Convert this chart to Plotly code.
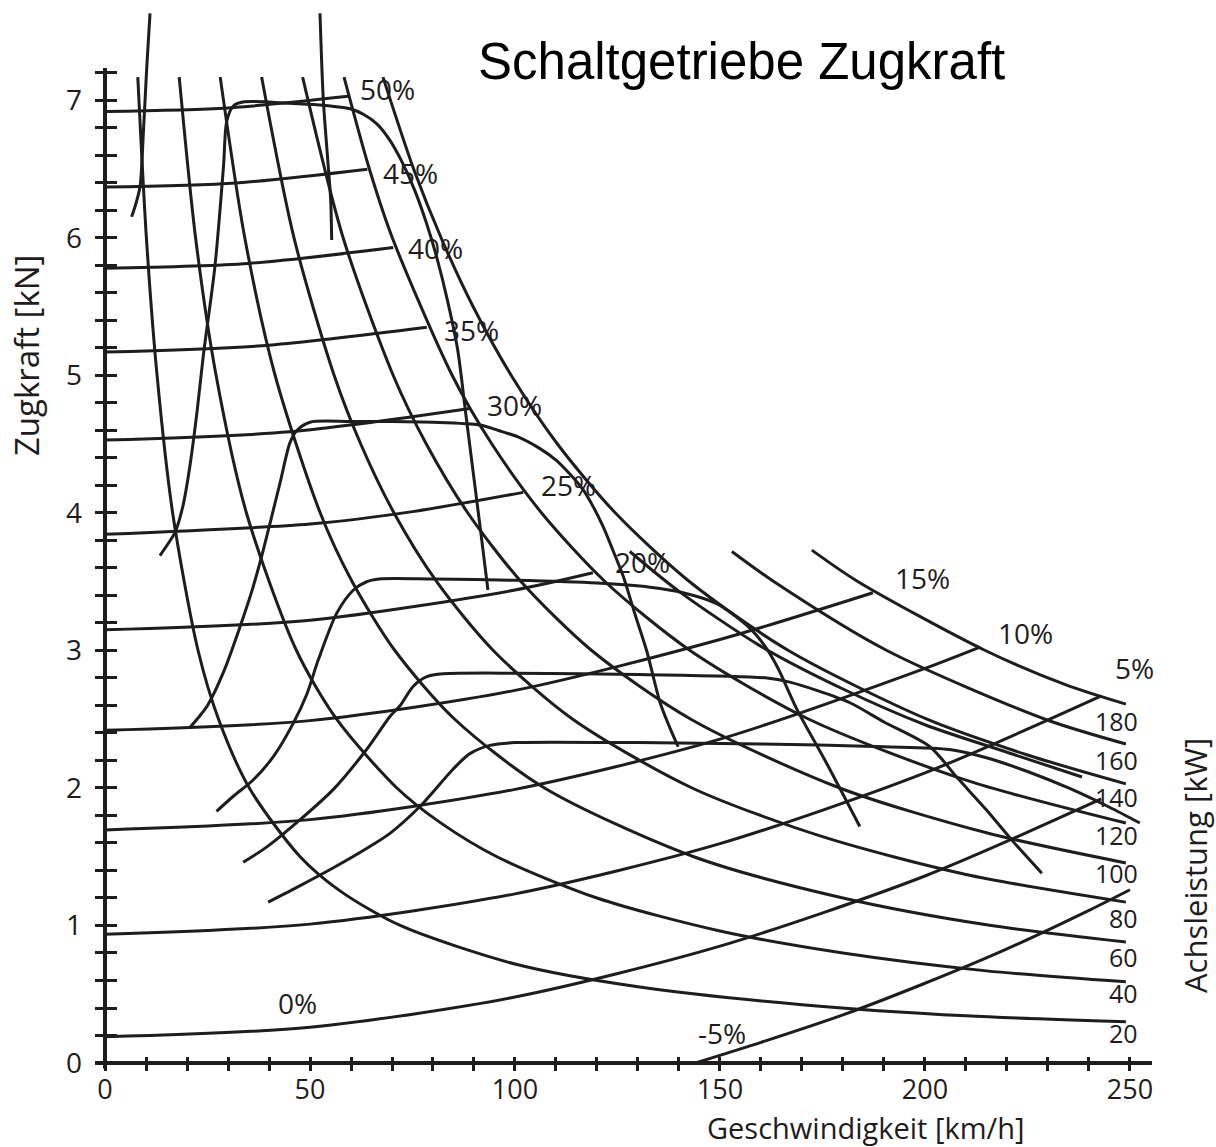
import plotly.graph_objects as go

INK = "#1e1c1d"

# ---------------- axis ticks ----------------
X_MAJOR = [0, 50, 100, 150, 200, 250]
X_MINOR = [10, 20, 30, 40, 60, 70, 80, 90, 110, 120, 130, 140, 160, 170, 180, 190, 210, 220, 230, 240]
Y_MAJOR = [0, 1, 2, 3, 4, 5, 6, 7]
Y_MINOR = [0.2, 0.4, 0.6, 0.8, 1.2, 1.4, 1.6, 1.8, 2.2, 2.4, 2.6, 2.8, 3.2, 3.4, 3.6, 3.8,
           4.2, 4.4, 4.6, 4.8, 5.2, 5.4, 5.6, 5.8, 6.2, 6.4, 6.6, 6.8, 7.2]

# ---------------- power hyperbolas (Achsleistung, kW) ----------------
P20_X = [8.0, 10.1, 12.7, 16.5, 22.7, 27.7, 35.2, 47.6, 57.4, 72, 100, 130, 170, 210, 249]
P20_F = [7.17, 6.0, 5.0, 4.0, 3.0, 2.5, 2.0, 1.5, 1.25, 1.0, 0.72, 0.554, 0.424, 0.343, 0.30]
P40_X = [18.1, 22.1, 27.1, 34.5, 46.7, 56.5, 71.2, 81.7, 95.6, 120, 150, 180, 215, 249]
P40_F = [7.17, 6.0, 5.0, 4.0, 3.0, 2.5, 2.0, 1.75, 1.5, 1.2, 0.96, 0.80, 0.67, 0.59]
P60_X = [28.1, 34.1, 41.5, 52.5, 60.3, 70.7, 85.3, 107.2, 143.6, 180, 215, 249]
P60_F = [7.17, 6.0, 5.0, 4.0, 3.5, 3.0, 2.5, 2.0, 1.5, 1.2, 1.005, 0.88]
P80_X = [38.2, 46.1, 55.9, 62.4, 70.5, 80.9, 94.7, 114.1, 143.2, 175, 210, 249]
P80_F = [7.17, 6.0, 5.0, 4.5, 4.0, 3.5, 3.0, 2.5, 2.0, 1.646, 1.371, 1.17]
P100_X = [48.2, 58.1, 70.3, 78.4, 88.5, 101.5, 118.7, 142.9, 179.2, 215, 249]
P100_F = [7.17, 6.0, 5.0, 4.5, 4.0, 3.5, 3.0, 2.5, 2.0, 1.674, 1.455]
P120_X = [58.3, 64.5, 70.1, 84.7, 94.4, 106.5, 122.0, 142.7, 171.7, 210, 249]
P120_F = [7.17, 6.5, 6.0, 5.0, 4.5, 4.0, 3.5, 3.0, 2.5, 2.057, 1.745]
P140_X = [67.8, 75.3, 82.0, 89.8, 99.1, 110.4, 124.5, 142.6, 166.7, 200.5, 225, 249]
P140_F = [7.17, 6.5, 6.0, 5.5, 5.0, 4.5, 4.0, 3.5, 3.0, 2.5, 2.24, 2.03]
P160_X = [152.9, 163.2, 190.7, 229.3, 249]
P160_F = [3.72, 3.5, 3.0, 2.5, 2.32]
P180_X = [172.4, 183.7, 214.7, 234.4, 249]
P180_F = [3.73, 3.5, 3.0, 2.75, 2.61]
POWER_LABELS = ["180", "160", "140", "120", "100", "80", "60", "40", "20"]
POWER_LABEL_F = [2.49, 2.20, 1.935, 1.66, 1.38, 1.055, 0.77, 0.51, 0.218]

# ---------------- road resistance per gradient ----------------
GM5_X = [144, 160, 180, 200, 220, 240, 250]
GM5_F = [0.0, 0.15, 0.35, 0.58, 0.83, 1.11, 1.26]
G0_X = [0, 50, 100, 150, 200, 243]
G0_F = [0.19, 0.26, 0.48, 0.85, 1.36, 1.92]
G5_X = [0, 50, 100, 150, 200, 243]
G5_F = [0.936, 1.01, 1.23, 1.595, 2.11, 2.67]
G10_X = [0, 50, 100, 150, 200, 213.4]
G10_F = [1.695, 1.77, 1.99, 2.355, 2.87, 3.025]
G15_X = [0, 50, 100, 150, 187.3]
G15_F = [2.42, 2.49, 2.71, 3.08, 3.42]
G20_X = [0, 50, 100, 119]
G20_F = [3.15, 3.22, 3.44, 3.565]
G25_X = [0, 50, 75, 102]
G25_F = [3.845, 3.92, 4.01, 4.15]
G30_X = [0, 45, 89]
G30_F = [4.53, 4.59, 4.76]
G35_X = [0, 40, 78.5]
G35_F = [5.17, 5.22, 5.35]
G40_X = [0, 35, 70.3]
G40_F = [5.78, 5.815, 5.93]
G45_X = [0, 32, 64]
G45_F = [6.37, 6.40, 6.50]
G50_X = [0, 30, 59.3]
G50_F = [6.92, 6.946, 7.03]
GRADE_LABELS = ["50%", "45%", "40%", "35%", "30%", "25%", "20%", "15%", "10%", "5%", "0%", "-5%"]
GRADE_LABEL_X = [69, 74.4, 80.7, 89.3, 100, 113, 131, 199.5, 224.6, 251, 47, 150.5]
GRADE_LABEL_F = [7.08, 6.47, 5.93, 5.33, 4.785, 4.2, 3.64, 3.53, 3.13, 2.87, 0.436, 0.22]

# ---------------- traction per gear ----------------
GEAR1_X = [13.4, 15.9, 17.1, 19, 20.7, 22.5, 24, 26.8, 28.9, 29.7, 31.3, 34, 45, 55, 59.8, 63, 66.3,
           69.5, 72.5, 75.5, 78.5, 81, 83.5, 86, 88, 90, 91.7, 93.4]
GEAR1_F = [3.69, 3.80, 3.86, 4.05, 4.34, 4.75, 5.15, 5.79, 6.52, 6.85, 6.96, 6.99, 6.98, 6.96, 6.94, 6.9, 6.83,
           6.71, 6.55, 6.35, 6.10, 5.85, 5.55, 5.19, 4.72, 4.25, 3.85, 3.44]
GEAR2_X = [20.7, 23, 25, 29, 32.9, 36, 38.6, 42.7, 45.1, 46.8, 50, 60, 70, 80, 91.5, 96, 101, 106, 110,
           113.5, 116.6, 119, 121.5, 124, 126.4, 129.2, 132.1, 135.4, 137.6, 139.8]
GEAR2_F = [2.44, 2.52, 2.60, 2.85, 3.17, 3.45, 3.73, 4.22, 4.51, 4.60, 4.66, 4.665, 4.665, 4.66, 4.64, 4.60,
           4.55, 4.47, 4.385, 4.28, 4.17, 4.05, 3.90, 3.72, 3.54, 3.27, 3.0, 2.62, 2.45, 2.30]
GEAR3_X = [27.2, 31.3, 36.2, 41.1, 45.9, 49.2, 52, 56.5, 60.6, 63.8, 66.9, 80, 100, 120, 132.9, 141,
           149.2, 157, 161, 164, 168.8, 176, 184.1]
GEAR3_F = [1.83, 1.94, 2.06, 2.23, 2.47, 2.68, 2.93, 3.27, 3.44, 3.50, 3.52, 3.52, 3.51, 3.49, 3.46, 3.42,
           3.34, 3.17, 3.03, 2.88, 2.57, 2.18, 1.72]
GEAR4_X = [33.7, 39.4, 47.6, 55.7, 63.8, 69.5, 72, 75.2, 78.5, 82.5, 100, 130, 161.5, 167, 173.6, 181.7,
           190, 201.2, 208, 215, 221.5, 228.5]
GEAR4_F = [1.46, 1.57, 1.77, 1.99, 2.28, 2.52, 2.60, 2.74, 2.81, 2.83, 2.835, 2.825, 2.80, 2.77, 2.71, 2.62,
           2.48, 2.30, 2.07, 1.84, 1.61, 1.38]
GEAR5_X = [39.8, 47.6, 55.7, 63.8, 69.5, 76.8, 85, 89, 93.9, 100, 130, 160, 190, 206, 215, 225, 235, 245, 252.4]
GEAR5_F = [1.17, 1.29, 1.42, 1.56, 1.67, 1.865, 2.14, 2.25, 2.31, 2.33, 2.33, 2.32, 2.30, 2.28, 2.22,
           2.12, 2.0, 1.86, 1.745]
ENV_X = [128, 140, 160, 180, 200, 220, 238.3]
ENV_F = [3.72, 3.43, 3.03, 2.72, 2.46, 2.26, 2.08]
L1_X = [10.98, 10.2, 9.35, 8.54, 7.32, 6.5]
L1_F = [7.634, 7.25, 6.761, 6.373, 6.228, 6.155]
L2_X = [52.44, 53.25, 54.46, 55.05, 55.29]
L2_F = [7.634, 7.004, 6.519, 6.276, 5.985]

# ---------------- figure ----------------
fig = go.Figure()

curves = [
    ("20 kW", P20_X, P20_F), ("40 kW", P40_X, P40_F), ("60 kW", P60_X, P60_F),
    ("80 kW", P80_X, P80_F), ("100 kW", P100_X, P100_F), ("120 kW", P120_X, P120_F),
    ("140 kW", P140_X, P140_F), ("160 kW", P160_X, P160_F), ("180 kW", P180_X, P180_F),
    ("-5%", GM5_X, GM5_F), ("0%", G0_X, G0_F), ("5%", G5_X, G5_F), ("10%", G10_X, G10_F),
    ("15%", G15_X, G15_F), ("20%", G20_X, G20_F), ("25%", G25_X, G25_F), ("30%", G30_X, G30_F),
    ("35%", G35_X, G35_F), ("40%", G40_X, G40_F), ("45%", G45_X, G45_F), ("50%", G50_X, G50_F),
    ("1. Gang", GEAR1_X, GEAR1_F), ("2. Gang", GEAR2_X, GEAR2_F), ("3. Gang", GEAR3_X, GEAR3_F),
    ("4. Gang", GEAR4_X, GEAR4_F), ("5. Gang", GEAR5_X, GEAR5_F), ("Hüllkurve", ENV_X, ENV_F),
    ("L1", L1_X, L1_F), ("L2", L2_X, L2_F),
]
for name, xs, fs in curves:
    fig.add_trace(go.Scatter(x=xs, y=fs, mode="lines", name=name,
                             line=dict(color=INK, width=3.0, shape="spline", smoothing=0.8),
                             hoverinfo="skip"))

annotations = []
for txt, x, y in zip(GRADE_LABELS, GRADE_LABEL_X, GRADE_LABEL_F):
    annotations.append(dict(x=x, y=y, xref="x", yref="y", text=txt, showarrow=False,
                            xanchor="center", yanchor="middle",
                            font=dict(family="Open Sans", size=28, color=INK)))
for txt, y in zip(POWER_LABELS, POWER_LABEL_F):
    annotations.append(dict(x=252.4, y=y, xref="x", yref="y", text=txt, showarrow=False,
                            xanchor="right", yanchor="middle",
                            font=dict(family="Open Sans", size=25, color=INK)))
annotations += [
    dict(x=155.2, y=7.28, xref="x", yref="y", text="Schaltgetriebe Zugkraft", showarrow=False,
         xanchor="center", yanchor="middle",
         font=dict(family="Liberation Sans", size=51, color="black")),
    dict(x=-0.0653, y=0.6748, xref="paper", yref="paper", text="Zugkraft [kN]", showarrow=False,
         textangle=-90, xanchor="center", yanchor="middle",
         font=dict(family="Open Sans", size=33, color=INK)),
    dict(x=1.0407, y=0.1932, xref="paper", yref="paper", text="Achsleistung [kW]", showarrow=False,
         textangle=-90, xanchor="center", yanchor="middle",
         font=dict(family="Open Sans", size=31, color=INK)),
    dict(x=0.7285, y=-0.05325, xref="paper", yref="paper", text="Geschwindigkeit [km/h]", showarrow=False,
         xanchor="center", yanchor="middle", borderpad=0,
         font=dict(family="Open Sans", size=29, color=INK)),
]

fig.update_layout(
    width=1216, height=1147,
    margin=dict(l=95, r=64, t=10, b=76),
    paper_bgcolor="white", plot_bgcolor="white",
    showlegend=False,
    annotations=annotations,
    shapes=[dict(type="line", xref="x", yref="y", x0=0, x1=0, y0=-0.04, y1=7.236,
                 line=dict(color=INK, width=4))],
)
fig.update_xaxes(
    range=[-2.439, 255.37], showgrid=False, zeroline=False, showline=False,
    tickmode="array", tickvals=X_MAJOR, ticktext=[str(v) for v in X_MAJOR],
    ticks="inside", ticklen=14, tickwidth=3, tickcolor=INK,
    minor=dict(tickmode="array", tickvals=X_MINOR, ticks="inside", ticklen=14, tickwidth=3, tickcolor=INK),
    tickfont=dict(family="Open Sans", size=27, color=INK), ticklabelstandoff=0,
)
fig.update_yaxes(
    range=[-0.0582, 7.658], showgrid=False, zeroline=True, zerolinecolor=INK, zerolinewidth=4,
    showline=False, tickmode="array", tickvals=Y_MAJOR, ticktext=[str(v) for v in Y_MAJOR],
    ticks="inside", ticklen=22, tickwidth=3, tickcolor=INK,
    minor=dict(tickmode="array", tickvals=Y_MINOR, ticks="inside", ticklen=22, tickwidth=3, tickcolor=INK),
    tickfont=dict(family="Open Sans", size=28, color=INK), ticklabelstandoff=12,
)

fig.write_html("out.html", config={"displayModeBar": False},
               post_script="document.body.style.margin='0';document.body.style.overflow='hidden';")
